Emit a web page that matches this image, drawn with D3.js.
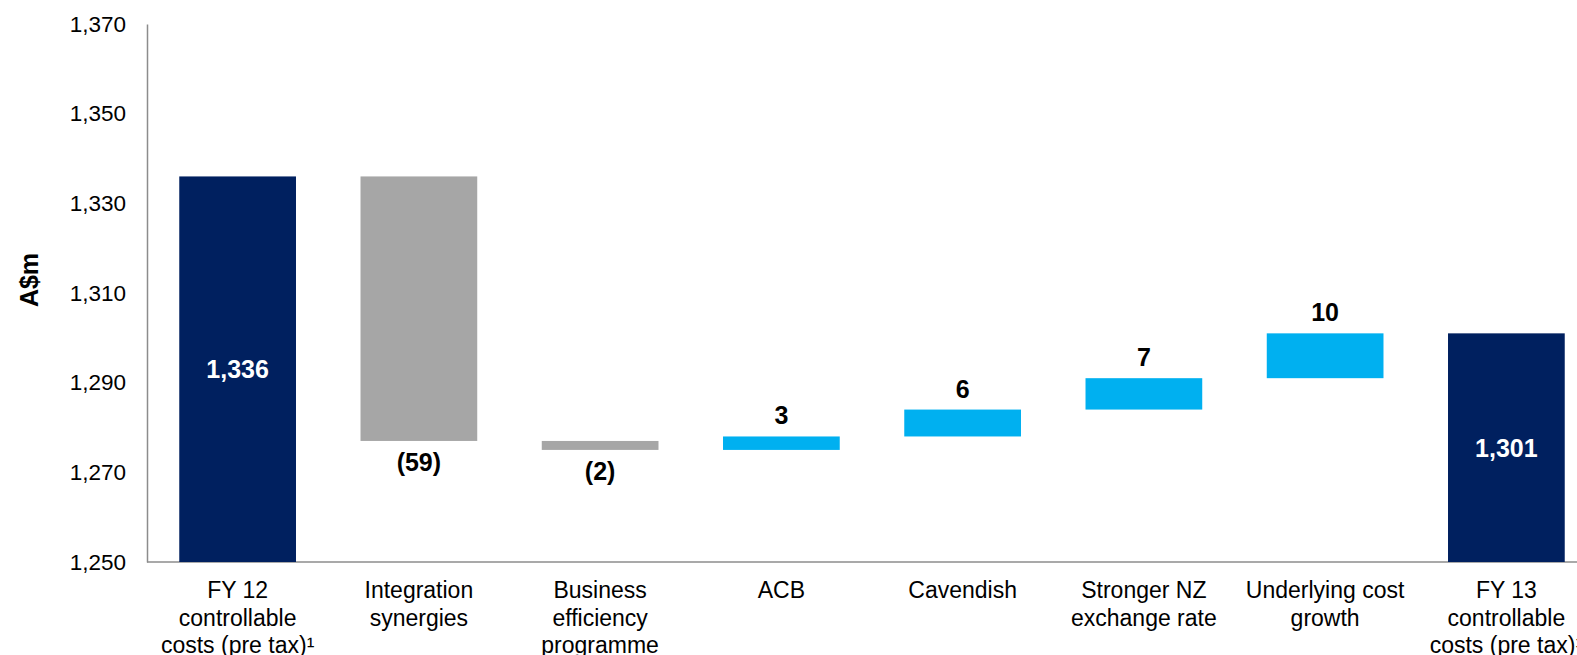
<!DOCTYPE html>
<html>
<head>
<meta charset="utf-8">
<script src="https://cdn.jsdelivr.net/npm/d3@7"></script>
<style>
  body { margin: 0; background: #fff; }
  svg { display: block; font-family: "Liberation Sans", Arial, sans-serif; }
</style>
</head>
<body>
<svg id="chart" width="1577" height="655"></svg>
<script>
// chart data
const categories = [
    "FY 12\ncontrollable\ncosts (pre tax)\u00b9",
    "Integration\nsynergies",
    "Business\nefficiency\nprogramme",
    "ACB",
    "Cavendish",
    "Stronger NZ\nexchange rate",
    "Underlying cost\ngrowth",
    "FY 13\ncontrollable\ncosts (pre tax)\u00b9"
];
const values = [1336, -59, -2, 3, 6, 7, 10, 1301];
const kinds = ["total", "neg", "neg", "pos", "pos", "pos", "pos", "total"];
const valueLabels = ["1,336", "(59)", "(2)", "3", "6", "7", "10", "1,301"];
const yTicks = [1250, 1270, 1290, 1310, 1330, 1350, 1370];

const colors = { total: "#00205f", neg: "#a6a6a6", pos: "#00b0f0" };

const svg = d3.select("#chart");
const width = +svg.attr("width");

// running totals -> bar start/end
let running = 0;
const bars = values.map((v, i) => {
    let start, end;
    if (kinds[i] === "total") {
        start = yTicks[0];
        end = v;
        running = v;
    } else {
        start = running;
        end = running + v;
        running = end;
    }
    return { cat: categories[i], kind: kinds[i], label: valueLabels[i], start, end, i };
});

const x = d3.scaleBand()
    .domain(d3.range(categories.length))
    .range([147, 147 + 8 * 181.25])
    .paddingInner(0.356)
    .paddingOuter(0.178);

const y = d3.scaleLinear()
    .domain([1250, 1370])
    .range([562, 24]);

// y axis
const yAxis = svg.append("g")
    .attr("transform", "translate(147,0)")
    .call(d3.axisLeft(y).tickValues(yTicks).tickFormat(d3.format(",")).tickSize(0).tickSizeOuter(0).tickPadding(21));
yAxis.select(".domain").attr("stroke", "#8c8c8c").attr("stroke-width", 1.5);
yAxis.selectAll("text")
    .attr("font-size", 22.5)
    .attr("font-family", "Liberation Sans, Arial, sans-serif")
    .attr("fill", "#000");

// x axis baseline
svg.append("line")
    .attr("x1", 147).attr("x2", width)
    .attr("y1", y(1250)).attr("y2", y(1250))
    .attr("stroke", "#8c8c8c")
    .attr("stroke-width", 1.5);

// axis title
svg.append("text")
    .attr("transform", `translate(38,280) rotate(-90)`)
    .attr("text-anchor", "middle")
    .attr("font-size", 25)
    .attr("font-weight", "bold")
    .text("A$m");

// bars
svg.append("g")
    .selectAll("rect")
    .data(bars)
    .join("rect")
    .attr("x", d => x(d.i))
    .attr("width", x.bandwidth())
    .attr("y", d => y(Math.max(d.start, d.end)))
    .attr("height", d => Math.abs(y(d.start) - y(d.end)))
    .attr("fill", d => colors[d.kind]);

// value labels
svg.append("g")
    .selectAll("text")
    .data(bars)
    .join("text")
    .attr("x", d => x(d.i) + x.bandwidth() / 2)
    .attr("y", d => {
        if (d.kind === "total") return (y(d.start) + y(d.end)) / 2 + 9;
        if (d.kind === "neg") return y(d.end) + 30;
        return y(d.end) - 12;
    })
    .attr("text-anchor", "middle")
    .attr("font-size", 25)
    .attr("font-weight", "bold")
    .attr("fill", d => d.kind === "total" ? "#fff" : "#000")
    .text(d => d.label);

// category labels
const catText = svg.append("g")
    .selectAll("text")
    .data(bars)
    .join("text")
    .attr("x", d => x(d.i) + x.bandwidth() / 2)
    .attr("y", 598)
    .attr("text-anchor", "middle")
    .attr("font-size", 23)
    .attr("fill", "#000");

catText.selectAll("tspan")
    .data(d => d.cat.split("\n").map(t => ({ t, x: x(d.i) + x.bandwidth() / 2 })))
    .join("tspan")
    .attr("x", d => d.x)
    .attr("dy", (d, j) => j === 0 ? 0 : 27.5)
    .text(d => d.t);
</script>
</body>
</html>
